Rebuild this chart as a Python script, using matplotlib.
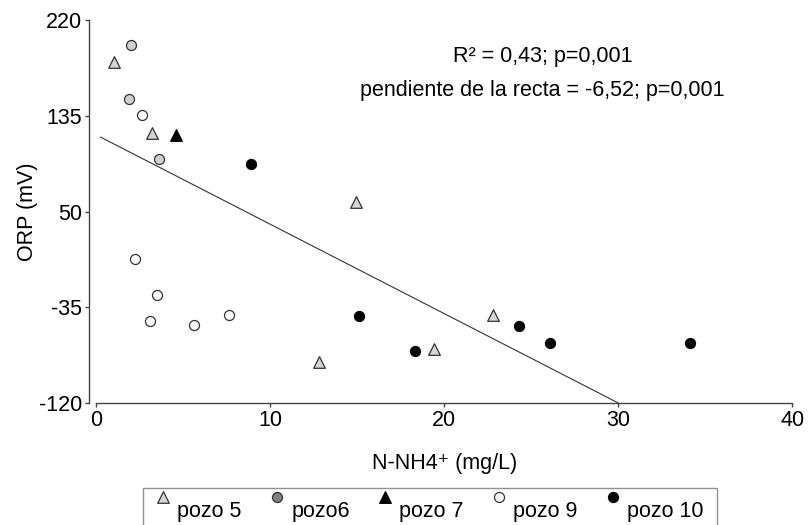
import matplotlib
matplotlib.use("Agg")
import matplotlib.pyplot as plt
import numpy as np

plt.rcParams['font.family'] = ['Liberation Sans', 'DejaVu Sans']

# Data: N-NH4+ (mg/L) vs ORP (mV)
pozo5_x = [1.0, 3.2, 14.9, 22.8, 19.4, 12.8]
pozo5_y = [183, 120, 58, -42, -72, -84]
pozo6_x = [2.0, 1.9, 3.6]
pozo6_y = [198, 150, 97]
pozo7_x = [4.6]
pozo7_y = [118]
pozo9_x = [2.6, 2.2, 3.5, 3.1, 5.6, 7.6]
pozo9_y = [136, 8, -24, -47, -51, -42]
pozo10_x = [8.9, 15.1, 18.3, 24.3, 26.1, 34.1]
pozo10_y = [92, -43, -74, -52, -67, -67]

# regression line endpoints (as drawn)
line_x = [0.25, 30.0]
line_y = [116, -120]

xticks = [0, 10, 20, 30, 40]
yticks = [-120, -35, 50, 135, 220]

fig = plt.figure(figsize=(8.09, 5.25), dpi=100)
ax = fig.add_axes([96.3/809, 1-403/525, (792.3-96.3)/809, (403-20)/525])

edge = '#333333'
ms = 52
ax.plot(line_x, line_y, color='#333333', lw=0.8, zorder=1)
h5 = ax.scatter(pozo5_x, pozo5_y, marker='^', s=70, facecolor='#d4d4d4', edgecolor=edge, linewidth=0.9, label='pozo 5', zorder=3)
h6 = ax.scatter(pozo6_x, pozo6_y, marker='o', s=ms, facecolor='#d0d0d0', edgecolor=edge, linewidth=0.9, label='pozo6', zorder=3)
h7 = ax.scatter(pozo7_x, pozo7_y, marker='^', s=70, facecolor='black', edgecolor='black', linewidth=0.9, label='pozo 7', zorder=3)
h9 = ax.scatter(pozo9_x, pozo9_y, marker='o', s=ms, facecolor='white', edgecolor=edge, linewidth=0.9, label='pozo 9', zorder=3)
h10 = ax.scatter(pozo10_x, pozo10_y, marker='o', s=ms, facecolor='black', edgecolor='black', linewidth=0.9, label='pozo 10', zorder=3)

ax.set_xlim(0, 40)
ax.set_ylim(-120, 220)
ax.set_xticks(xticks)
ax.set_yticks(yticks)
ax.set_xticklabels([str(v) for v in xticks])
ax.set_yticklabels([str(v) for v in yticks])
for s in ['top', 'right']:
    ax.spines[s].set_visible(False)
ax.spines['left'].set_position(('outward', 5))
for s in ['left', 'bottom']:
    ax.spines[s].set_color('#444444')
    ax.spines[s].set_linewidth(1.0)
ax.tick_params(axis='both', direction='out', length=3, width=1.0, color='#444444',
               labelsize=15.5, labelcolor='black', pad=2)
ax.set_xlabel('N-NH4\u207a (mg/L)', fontsize=15.5, labelpad=16)
ax.set_ylabel('ORP (mV)', fontsize=15.5, labelpad=1)

ax.text(0.641, 0.906, 'R\u00b2 = 0,43; p=0,001', transform=ax.transAxes,
        ha='center', va='center', fontsize=15.5)
ax.text(0.641, 0.817, 'pendiente de la recta = -6,52; p=0,001', transform=ax.transAxes,
        ha='center', va='center', fontsize=15.5)

leg = fig.legend(handles=[h5, h6, h7, h9, h10], loc='upper left',
                 bbox_to_anchor=(143/809, 1-488/525), ncol=5, frameon=True,
                 fancybox=False, edgecolor='#777777', fontsize=15.5,
                 markerscale=1.0, handlelength=0.7, handletextpad=0.3,
                 scatteryoffsets=[1.3],
                 columnspacing=1.3, borderpad=0.6, borderaxespad=0)
leg.get_frame().set_linewidth(1.0)
leg.legend_handles[1].set_facecolor('#808080')

fig.savefig('out.png', dpi=100)
